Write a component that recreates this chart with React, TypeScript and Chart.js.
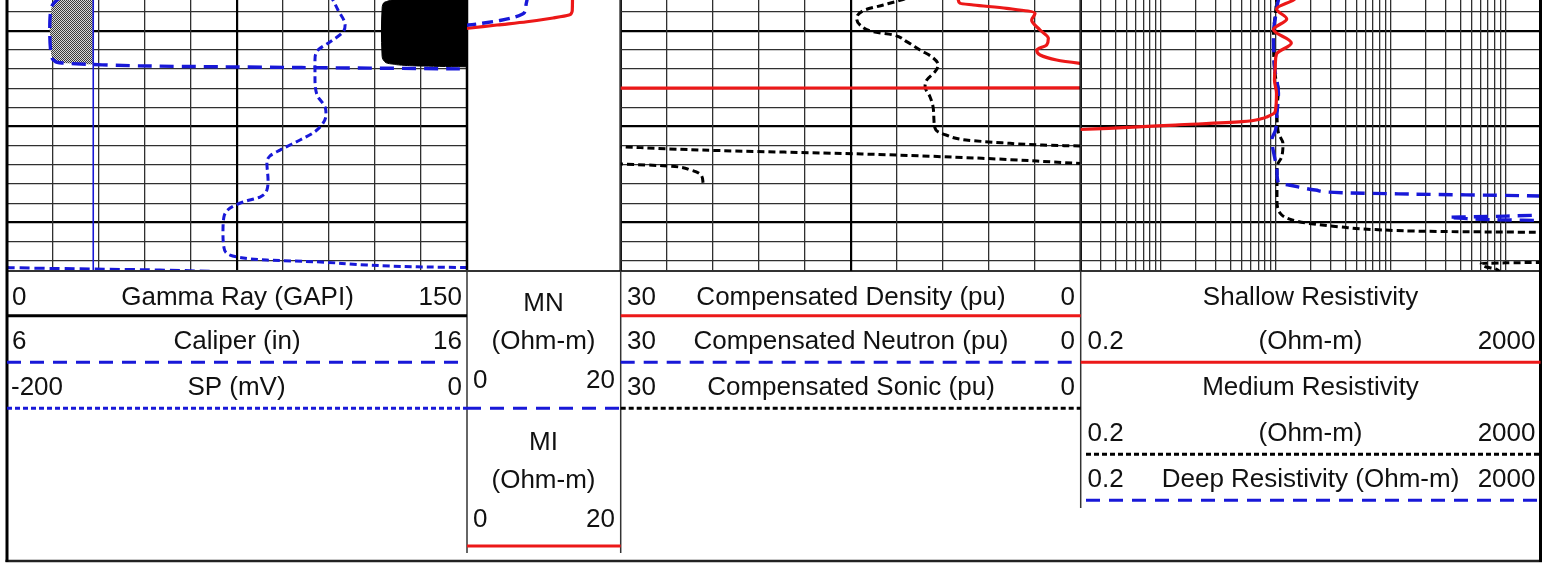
import { useEffect, useRef } from "react";
import { Chart, registerables } from "chart.js";

Chart.register(...registerables);

type Pt = [number, number | null];

// ---------------- data (depth in ft, value in curve units) ----------------
const depthTicks = [5008, 5010, 5012, 5014, 5016, 5018, 5020, 5022, 5024, 5026, 5028, 5030, 5032, 5034];
const gammaTicks = [0, 15, 30, 45, 60, 75, 90, 105, 120, 135, 150];
const porosityTicks = [30, 27, 24, 21, 18, 15, 12, 9, 6, 3, 0];
const resistivityTicks = [
  0.2, 0.3, 0.4, 0.5, 0.6, 0.7, 0.8, 0.9, 1, 2, 3, 4, 5, 6, 7, 8, 9, 10, 20, 30, 40, 50, 60, 70, 80, 90,
  100, 200, 300, 400, 500, 600, 700, 800, 900, 1000, 2000,
];

const bitSize: Pt[] = [[5006.0, 7.875], [5036.0, 7.875]];

const gammaRay: Pt[] = [
  [5006.49, 130], [5006.8, 125.5], [5007.11, 122.8], [5007.84, 122.3], [5009.93, 122.1], [5012.54, 122.3],
  [5013.17, 123.0], [5013.48, 125.5], [5013.69, 134.7], [5013.85, 160], [5036.0, 165],
];

const caliper: Pt[] = [
  [5006.49, 7.2], [5006.8, 7.09], [5007.64, 6.96], [5009.93, 6.93], [5012.54, 6.96], [5013.17, 7.04],
  [5013.38, 7.2], [5013.53, 7.87], [5013.69, 9.1], [5013.85, 12.4], [5014.0, 16.0], [5014.21, 17.5], [5036.0, 18],
];

const sp: Pt[] = [
  [5006.28, -59.6], [5006.8, -58.3], [5007.84, -56.1], [5009.41, -53.0], [5010.14, -53.9], [5011.18, -59.6],
  [5012.02, -64.8], [5013.06, -66.1], [5014.84, -66.1], [5016.72, -65.2], [5017.97, -61.7], [5018.8, -61.3],
  [5020.06, -63.9], [5020.68, -67.0], [5021.41, -72.6], [5022.46, -81.3], [5023.08, -85.7], [5023.81, -87.0],
  [5025.59, -86.5], [5026.63, -87.0], [5027.36, -90.0], [5027.88, -97.4], [5028.51, -103.0], [5029.45, -105.7],
  [5031.12, -106.1], [5032.58, -105.7], [5033.42, -103.0], [5033.66, -98.7], [5033.94, -87.0], [5034.12, -65.2],
  [5034.46, -43.5], [5034.64, -21.7], [5034.72, -0.4], [5034.83, 23],
];

const spWrapped: Pt[] = [[5034.7, -201], [5034.74, -197], [5034.98, -133.5], [5035.25, -95]];

const mn: Pt[] = [
  [5006.28, 7.94], [5006.8, 7.81], [5007.32, 7.68], [5008.16, 7.42], [5008.57, 6.25], [5008.94, 4.29],
  [5009.2, 2.21], [5009.41, 0.13], [5009.57, -2.2], [5036.0, -2.5],
];

const mi: Pt[] = [
  [5006.28, 13.73], [5007.84, 13.7], [5008.16, 13.6], [5008.37, 13.27], [5008.68, 11.2], [5009.07, 7.8],
  [5009.41, 3.9], [5009.75, 0.13], [5009.9, -1.6], [5036.0, -2],
];

const density: Pt[] = [
  [5006.28, 8.1], [5006.8, 7.98], [5007.14, 7.87], [5007.32, 7.0], [5007.67, 4.83], [5008.19, 2.98],
  [5008.89, 3.2], [5009.93, 2.65], [5010.8, 2.11], [5011.5, 2.22], [5012.02, 2.87], [5012.54, 2.65],
  [5013.06, 1.57], [5013.41, 0.05], [5013.6, -1.0], [5015.97, -1.0], [5016.0, 31], [5036.0, 32],
];

const neutron: Pt[] = [];

const sonic: Pt[] = [
  [5006.28, 10.8], [5006.8, 11.72], [5007.32, 12.87], [5007.84, 14.07], [5008.71, 14.61], [5009.41, 14.39],
  [5010.11, 13.53], [5010.45, 12.22], [5011.15, 11.35], [5012.02, 10.48], [5012.72, 9.72], [5013.58, 9.29],
  [5014.28, 9.5], [5015.15, 10.04], [5015.85, 10.15], [5016.89, 9.83], [5017.94, 9.63], [5019.33, 9.57],
  [5020.37, 9.44], [5020.89, 8.78], [5021.41, 7.48], [5021.7, 5.13], [5021.94, 2.49], [5022.04, 0.0],
  [5022.06, -0.4], [5022.07, null],
  [5022.08, 30.4], [5022.11, 30.0], [5022.46, 24.76], [5022.87, 14.26], [5023.32, 6.44], [5023.85, 0.0],
  [5023.87, -0.3], [5023.88, null],
  [5023.89, 30.3], [5024.13, 26.85], [5024.55, 25.42], [5025.07, 24.76], [5025.87, 24.63],
];

const shallow: Pt[] = [
  [5006.28, 15.6], [5006.8, 14.2], [5007.74, 10.1], [5008.78, 12.4], [5009.88, 9.5], [5011.29, 13.6],
  [5012.44, 10.1], [5013.58, 9.86], [5015.15, 9.7], [5016.51, 10.1], [5018.28, 9.9], [5018.63, 9.6],
  [5018.98, 8.4], [5019.17, 7.6], [5019.5, 5.05], [5019.85, 1.33], [5020.19, 0.35], [5020.32, 0.19],
  [5020.47, 0.12], [5036.0, 0.12],
];

const medium: Pt[] = [
  [5006.28, 10.2], [5008.16, 9.9], [5010.24, 9.5], [5014.84, 9.9], [5016.19, 10.5], [5018.28, 10.2],
  [5020.68, 10.5], [5021.76, 11.5], [5023.16, 11.2], [5024.2, 10.2], [5027.68, 10.2], [5029.06, 10.9],
  [5029.76, 13.8], [5030.11, 19.3], [5030.49, 37], [5030.76, 73], [5030.96, 280], [5031.05, 2000],
  [5031.1, 2600], [5032.0, null],
  [5034.15, 2600], [5034.18, 2000], [5034.23, 1000], [5034.3, 610], [5034.64, 665], [5034.81, 782],
  [5034.98, 850], [5035.3, 900],
];

const deep: Pt[] = [
  [5006.28, 10.9], [5006.8, 10.5], [5008.54, 9.9], [5010.28, 9.5], [5013.76, 9.7], [5016.54, 10.5],
  [5018.63, 10.2], [5020.37, 9.9], [5021.41, 9.2], [5023.16, 9.7], [5024.55, 10.2], [5025.93, 10.5],
  [5026.11, 12.9], [5026.63, 22.0], [5026.91, 37.5], [5027.05, 143], [5027.26, 2000], [5027.36, 2600],
  [5028.5, null],
  [5029.15, 2600], [5029.22, 2200], [5029.35, 1000], [5029.43, 500], [5029.47, 318], [5029.59, 428],
  [5029.69, 601], [5029.74, 900], [5029.77, 1300], [5029.81, 2000], [5029.85, 2600],
];

// header labels
const grLabels = ["0", "Gamma Ray (GAPI)", "150"];
const calLabels = ["6", "Caliper (in)", "16"];
const spLabels = ["-200", "SP (mV)", "0"];
const mnLabels = ["MN", "(Ohm-m)", "0", "20"];
const miLabels = ["MI", "(Ohm-m)", "0", "20"];
const densLabels = ["30", "Compensated Density (pu)", "0"];
const neutLabels = ["30", "Compensated Neutron (pu)", "0"];
const sonicLabels = ["30", "Compensated Sonic (pu)", "0"];
const shallowLabels = ["Shallow Resistivity", "0.2", "(Ohm-m)", "2000"];
const mediumLabels = ["Medium Resistivity", "0.2", "(Ohm-m)", "2000"];
const deepLabels = ["0.2", "Deep Resistivity (Ohm-m)", "2000"];

// ---------------- layout & style ----------------
const W = 1549;
const H = 564;
const PLOT_BOTTOM = 271;
const DEPTH_TOP = 5006.8;
const DEPTH_BOTTOM = 5035.08;
const X1 = 7;
const X2 = 467;
const X3 = 620.7;
const X4 = 1080.7;
const X5 = 1540.5;
const RED = "rgb(236,24,24)";
const BLUE = "rgb(24,24,216)";
const TEXT = "#111";
const FONT = '26px "Liberation Sans", Arial, Helvetica, sans-serif';
const MINOR = "#303030";

const toXY = (pts: Pt[]) => pts.map(([d, v]) => ({ x: v, y: d }));

function seg(ctx: CanvasRenderingContext2D, x0: number, y0: number, x1: number, y1: number, color: string, width: number, dash: number[] = []) {
  ctx.save();
  ctx.strokeStyle = color;
  ctx.lineWidth = width;
  ctx.setLineDash(dash);
  ctx.beginPath();
  ctx.moveTo(x0, y0);
  ctx.lineTo(x1, y1);
  ctx.stroke();
  ctx.restore();
}

function txt(ctx: CanvasRenderingContext2D, s: string, x: number, y: number, align: CanvasTextAlign) {
  ctx.save();
  ctx.font = FONT;
  ctx.fillStyle = TEXT;
  ctx.textAlign = align;
  ctx.textBaseline = "alphabetic";
  ctx.fillText(s, x, y);
  ctx.restore();
}

const depthAxis = (showGrid: boolean) => ({
  type: "linear",
  axis: "y",
  reverse: true,
  min: DEPTH_TOP,
  max: DEPTH_BOTTOM,
  bounds: "data",
  display: showGrid,
  afterBuildTicks: (s: any) => {
    s.ticks = depthTicks.map((v) => ({ value: v }));
  },
  afterFit: (s: any) => {
    s.width = 0;
  },
  ticks: { display: false },
  border: { display: false },
  grid: {
    drawTicks: false,
    color: (c: any) => (c.tick && c.tick.value % 10 === 0 ? "#000" : MINOR),
    lineWidth: (c: any) => (c.tick && c.tick.value % 10 === 0 ? 2.2 : 1.3),
  },
});

const gridAxis = (type: string, min: number, max: number, ticks: number[], major: number[], reverse = false) => ({
  type,
  axis: "x",
  position: "top",
  min,
  max,
  reverse,
  bounds: "data",
  display: true,
  afterBuildTicks: (s: any) => {
    s.ticks = ticks.map((v) => ({ value: v }));
  },
  afterFit: (s: any) => {
    s.height = 0;
  },
  ticks: { display: false },
  border: { display: false },
  grid: {
    drawTicks: false,
    color: (c: any) => (c.tick && major.includes(c.tick.value) ? "#000" : MINOR),
    lineWidth: (c: any) => (c.tick && major.includes(c.tick.value) ? 2.2 : 1.3),
  },
});

const hiddenAxis = (min: number, max: number) => ({ type: "linear", axis: "x", min, max, bounds: "data", display: false });

const curve = (label: string, pts: Pt[], xAxisID: string, color: string, width: number, dash: number[] = []) => ({
  label,
  data: toXY(pts),
  xAxisID,
  yAxisID: "y",
  borderColor: color,
  backgroundColor: color,
  borderWidth: width,
  borderDash: dash,
  borderJoinStyle: "round",
  pointRadius: 0,
  fill: false,
  cubicInterpolationMode: "monotone",
  clip: 0,
});

const baseOptions = (left: number, right: number, scales: any) => ({
  indexAxis: "y",
  responsive: false,
  animation: false,
  events: [],
  layout: { padding: { left, right: W - right, top: 0, bottom: H - PLOT_BOTTOM }, autoPadding: false },
  plugins: { legend: { display: false }, tooltip: { enabled: false } },
  scales,
});

// gray mud-cake fill between caliper and bit size where the hole is under gauge
const mudcakePlugin = {
  id: "mudcake",
  beforeDatasetsDraw(chart: any) {
    const ctx: CanvasRenderingContext2D = chart.ctx;
    const xs = chart.scales.xCAL;
    const ys = chart.scales.y;
    const a = chart.chartArea;
    const pc = document.createElement("canvas");
    pc.width = 2;
    pc.height = 2;
    const p = pc.getContext("2d")!;
    p.fillStyle = "#d8d8d8";
    p.fillRect(0, 0, 2, 2);
    p.fillStyle = "#3a3a3a";
    p.fillRect(0, 0, 1, 1);
    p.fillRect(1, 1, 1, 1);
    const pattern = ctx.createPattern(pc, "repeat") || "#888";
    const bitPx = xs.getPixelForValue(bitSize[0][1]);
    ctx.save();
    ctx.beginPath();
    ctx.rect(a.left, a.top, Math.max(0, bitPx - a.left), a.bottom - a.top);
    ctx.clip();
    ctx.fillStyle = pattern;
    ctx.beginPath();
    let first = true;
    let lastY = 0;
    for (const [d, v] of caliper) {
      if (v === null) break;
      const px = xs.getPixelForValue(v);
      const py = ys.getPixelForValue(d);
      if (first) {
        ctx.moveTo(bitPx, py);
        first = false;
      }
      ctx.lineTo(px, py);
      lastY = py;
    }
    ctx.lineTo(bitPx, lastY);
    ctx.closePath();
    ctx.fill();
    ctx.restore();
  },
};

const decor1 = {
  id: "decor1",
  afterDraw(chart: any) {
    const c: CanvasRenderingContext2D = chart.ctx;
    seg(c, X2, 0, X2, PLOT_BOTTOM, "#000", 2.5);
    seg(c, X1, PLOT_BOTTOM, X5, PLOT_BOTTOM, "#333", 2);
    seg(c, X2, PLOT_BOTTOM, X2, 553, "#333", 1.5);
    seg(c, 5.5, 561, 1542, 561, "#222", 2.5);
    seg(c, X1, 0, X1, 562, "#000", 3);
    txt(c, grLabels[0], 12, 304.5, "left");
    txt(c, grLabels[1], 237.5, 304.5, "center");
    txt(c, grLabels[2], 462, 304.5, "right");
    seg(c, X1, 315.7, X2, 315.7, "#000", 3);
    txt(c, calLabels[0], 12, 349, "left");
    txt(c, calLabels[1], 237, 349, "center");
    txt(c, calLabels[2], 462, 349, "right");
    seg(c, X1, 362.3, X2, 362.3, BLUE, 3, [14, 9]);
    txt(c, spLabels[0], 11, 395, "left");
    txt(c, spLabels[1], 236.5, 395, "center");
    txt(c, spLabels[2], 462, 395, "right");
    seg(c, X1, 408.3, X2, 408.3, BLUE, 3, [5, 3]);
  },
};

const decor2 = {
  id: "decor2",
  afterDraw(chart: any) {
    const c: CanvasRenderingContext2D = chart.ctx;
    seg(c, X3, 0, X3, PLOT_BOTTOM, "#000", 2.5);
    seg(c, X3, PLOT_BOTTOM, X3, 553, "#333", 1.5);
    const cx = 543.5;
    txt(c, mnLabels[0], cx, 310.5, "center");
    txt(c, mnLabels[1], cx, 349, "center");
    txt(c, mnLabels[2], 473, 388, "left");
    txt(c, mnLabels[3], 615, 388, "right");
    seg(c, X2, 408.3, X3, 408.3, BLUE, 3, [14, 9]);
    txt(c, miLabels[0], cx, 450, "center");
    txt(c, miLabels[1], cx, 488, "center");
    txt(c, miLabels[2], 473, 527, "left");
    txt(c, miLabels[3], 615, 527, "right");
    seg(c, X2, 546, X3, 546, RED, 3);
  },
};

const decor3 = {
  id: "decor3",
  afterDraw(chart: any) {
    const c: CanvasRenderingContext2D = chart.ctx;
    seg(c, X4, 0, X4, PLOT_BOTTOM, "#000", 2.5);
    seg(c, X4, PLOT_BOTTOM, X4, 508, "#333", 1.5);
    const rows: [string[], number][] = [[densLabels, 304.5], [neutLabels, 349], [sonicLabels, 395]];
    for (const [l, y] of rows) {
      txt(c, l[0], 627, y, "left");
      txt(c, l[1], 851, y, "center");
      txt(c, l[2], 1075, y, "right");
    }
    seg(c, X3, 315.7, X4, 315.7, RED, 3);
    seg(c, X3, 362.3, X4, 362.3, BLUE, 3, [14, 9]);
    seg(c, X3, 408.3, X4, 408.3, "#000", 3, [5, 3]);
  },
};

const decor4 = {
  id: "decor4",
  afterDraw(chart: any) {
    const c: CanvasRenderingContext2D = chart.ctx;
    seg(c, X5, 0, X5, 562, "#000", 3);
    const cx = 1310.5;
    txt(c, shallowLabels[0], cx, 304.5, "center");
    txt(c, shallowLabels[1], 1087.5, 349, "left");
    txt(c, shallowLabels[2], cx, 349, "center");
    txt(c, shallowLabels[3], 1535.5, 349, "right");
    seg(c, X4, 362.3, X5, 362.3, RED, 3);
    txt(c, mediumLabels[0], cx, 395, "center");
    txt(c, mediumLabels[1], 1087.5, 441, "left");
    txt(c, mediumLabels[2], cx, 441, "center");
    txt(c, mediumLabels[3], 1535.5, 441, "right");
    seg(c, 1086, 454.3, X5, 454.3, "#000", 3, [5, 3]);
    txt(c, deepLabels[0], 1087.5, 487, "left");
    txt(c, deepLabels[1], cx, 487, "center");
    txt(c, deepLabels[2], 1535.5, 487, "right");
    seg(c, 1086, 500.3, X5, 500.3, BLUE, 3, [14, 9]);
  },
};

export default function App() {
  const r1 = useRef<HTMLCanvasElement>(null);
  const r2 = useRef<HTMLCanvasElement>(null);
  const r3 = useRef<HTMLCanvasElement>(null);
  const r4 = useRef<HTMLCanvasElement>(null);

  useEffect(() => {
    const charts: Chart[] = [];

    charts.push(
      new Chart(r1.current!, {
        type: "line",
        data: {
          datasets: [
            curve("Caliper", caliper, "xCAL", BLUE, 3.4, [14, 8]),
            curve("SP", sp, "xSP", BLUE, 3, [7, 4]),
            curve("SP (wrapped)", spWrapped, "xSP", BLUE, 3, [10, 5]),
            curve("Bit Size", bitSize, "xCAL", BLUE, 1.6),
            { ...curve("Gamma Ray", gammaRay, "xGR", "#000", 1), fill: { value: 150 }, backgroundColor: "#000" },
          ],
        },
        options: baseOptions(X1, X2, {
          y: depthAxis(true),
          xGR: gridAxis("linear", 0, 150, gammaTicks, [75]),
          xCAL: hiddenAxis(6, 16),
          xSP: hiddenAxis(-200, 0),
        }),
        plugins: [mudcakePlugin, decor1],
      } as any)
    );

    charts.push(
      new Chart(r2.current!, {
        type: "line",
        data: {
          datasets: [
            curve("MN", mn, "xMN", BLUE, 3.4, [11, 6]),
            curve("MI", mi, "xMN", RED, 3.2),
          ],
        },
        options: baseOptions(X2, X3, {
          y: depthAxis(false),
          xMN: hiddenAxis(0, 20),
        }),
        plugins: [decor2],
      } as any)
    );

    charts.push(
      new Chart(r3.current!, {
        type: "line",
        data: {
          datasets: [
            curve("Compensated Density", density, "xPOR", RED, 3.2),
            curve("Compensated Neutron", neutron, "xPOR", BLUE, 3.4, [13, 8]),
            curve("Compensated Sonic", sonic, "xPOR", "#000", 3, [7, 4]),
          ],
        },
        options: baseOptions(X3, X4, {
          y: depthAxis(true),
          xPOR: gridAxis("linear", 0, 30, porosityTicks, [15], true),
        }),
        plugins: [decor3],
      } as any)
    );

    charts.push(
      new Chart(r4.current!, {
        type: "line",
        data: {
          datasets: [
            curve("Shallow Resistivity", shallow, "xRES", RED, 3.2),
            curve("Deep Resistivity", deep, "xRES", BLUE, 3.4, [14, 8]),
            curve("Medium Resistivity", medium, "xRES", "#000", 3, [7, 4]),
          ],
        },
        options: baseOptions(X4, X5, {
          y: depthAxis(true),
          xRES: gridAxis("logarithmic", 0.2, 2000, resistivityTicks, []),
        }),
        plugins: [decor4],
      } as any)
    );

    return () => charts.forEach((ch) => ch.destroy());
  }, []);

  const cs: React.CSSProperties = { position: "absolute", left: 0, top: 0, width: W, height: H };
  return (
    <div style={{ position: "absolute", left: 0, top: 0, width: W, height: H, background: "#fff", overflow: "hidden" }}>
      <canvas ref={r1} width={W} height={H} style={cs} />
      <canvas ref={r2} width={W} height={H} style={cs} />
      <canvas ref={r3} width={W} height={H} style={cs} />
      <canvas ref={r4} width={W} height={H} style={cs} />
    </div>
  );
}
